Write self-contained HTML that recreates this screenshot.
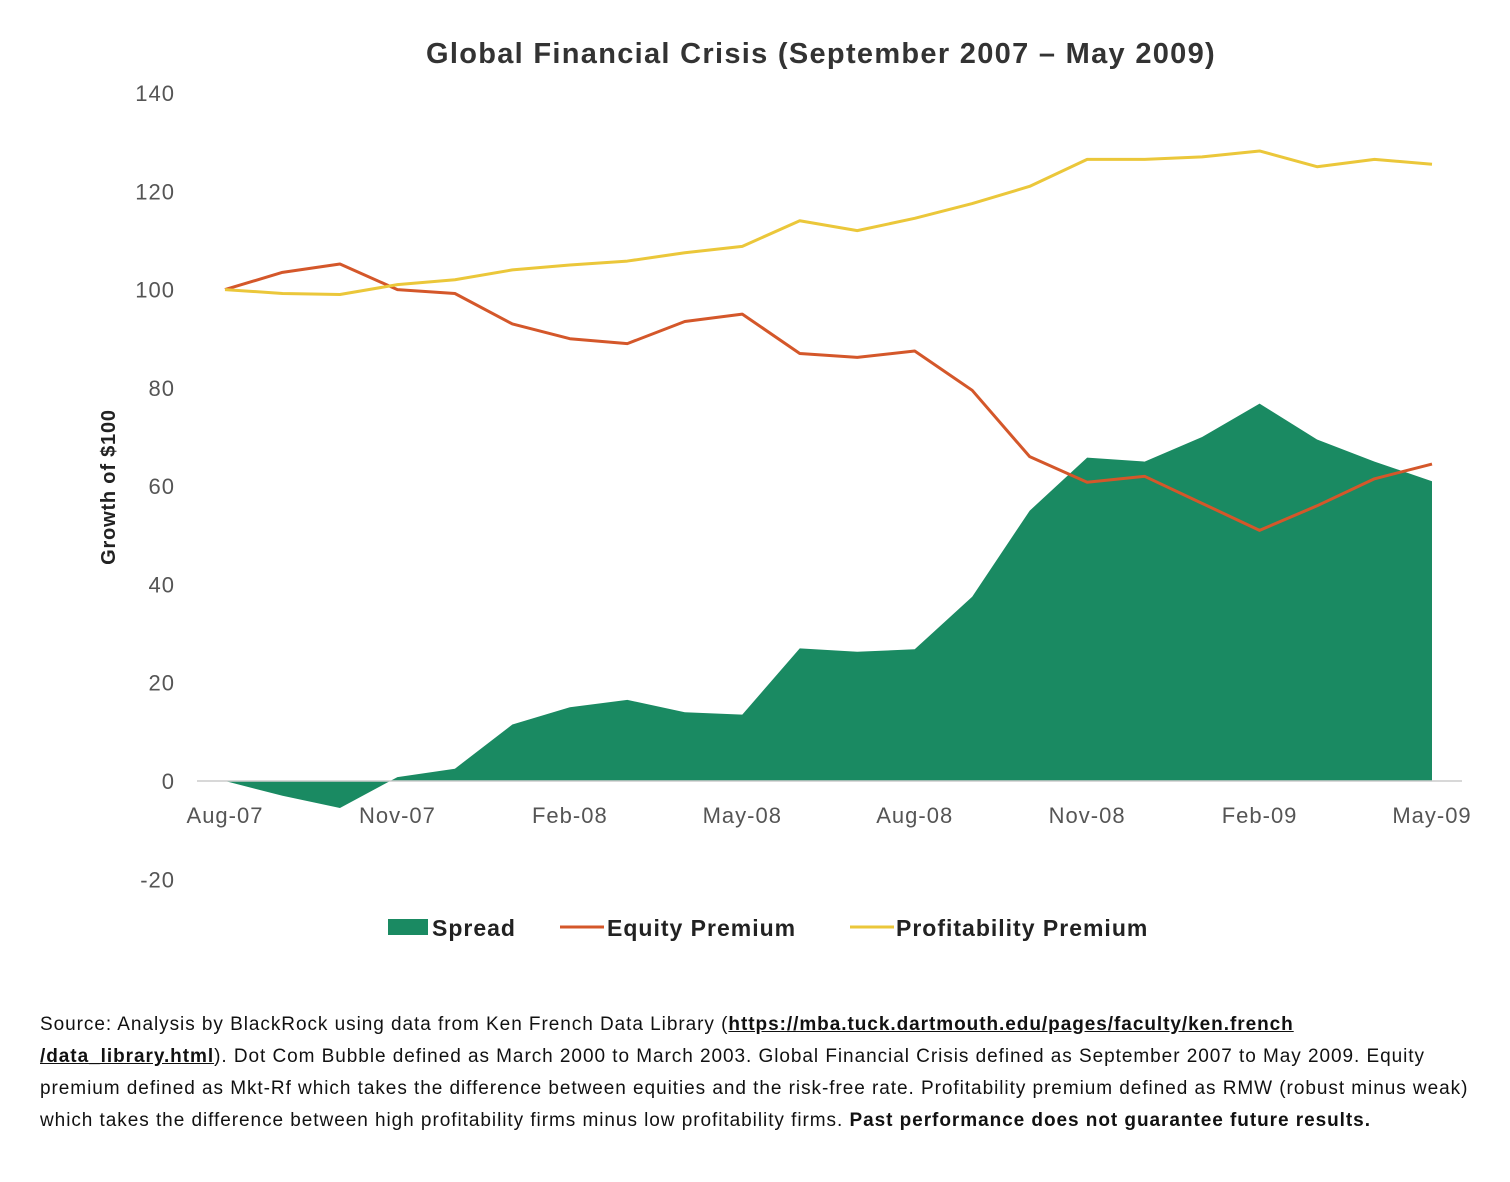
<!DOCTYPE html>
<html><head><meta charset="utf-8"><style>
body{margin:0;background:#fff;width:1510px;height:1182px;overflow:hidden;font-family:"Liberation Sans",sans-serif}
#foot{position:absolute;left:40px;top:1009px;width:1470px;font-size:19px;letter-spacing:0.95px;line-height:32px;color:#111;white-space:nowrap}
#foot a{color:#111;font-weight:bold;text-decoration:underline}
</style></head><body>
<svg id="chart" width="1510" height="990" style="position:absolute;left:0;top:0">
<text x="821" y="63" text-anchor="middle" font-size="29" font-weight="bold" fill="#333" letter-spacing="1.3">Global Financial Crisis (September 2007 – May 2009)</text>
<g id="yt"></g><g id="xt"></g><g id="marks"></g>
<text transform="translate(115,487) rotate(-90)" text-anchor="middle" font-size="20" font-weight="bold" fill="#222" letter-spacing="0.8">Growth of $100</text>
<g letter-spacing="1">
<rect x="388" y="919" width="40" height="16" fill="#1a8a62"/>
<text x="432" y="936" font-size="23" font-weight="bold" fill="#222">Spread</text>
<line x1="560" y1="927" x2="604" y2="927" stroke="#d4572a" stroke-width="3"/>
<text x="607" y="936" font-size="23" font-weight="bold" fill="#222">Equity Premium</text>
<line x1="850" y1="927" x2="894" y2="927" stroke="#ebc73a" stroke-width="3"/>
<text x="896" y="936" font-size="23" font-weight="bold" fill="#222">Profitability Premium</text>
</g>
</svg>
<div id="foot">Source: Analysis by BlackRock using data from Ken French Data Library (<a>https://mba.tuck.dartmouth.edu/pages/faculty/ken.french<br>/data_library.html</a>). Dot Com Bubble defined as March 2000 to March 2003. Global Financial Crisis defined as September 2007 to May 2009. Equity<br>premium defined as Mkt-Rf which takes the difference between equities and the risk-free rate. Profitability premium defined as RMW (robust minus weak)<br>which takes the difference between high profitability firms minus low profitability firms. <b>Past performance does not guarantee future results.</b></div>
<script>
const months=["Aug-07","Sep-07","Oct-07","Nov-07","Dec-07","Jan-08","Feb-08","Mar-08","Apr-08","May-08","Jun-08","Jul-08","Aug-08","Sep-08","Oct-08","Nov-08","Dec-08","Jan-09","Feb-09","Mar-09","Apr-09","May-09"];
const xLabels=["Aug-07","Nov-07","Feb-08","May-08","Aug-08","Nov-08","Feb-09","May-09"];
const yTicks=[-20,0,20,40,60,80,100,120,140];
const spread=[0,-3,-5.5,0.8,2.5,11.5,15,16.5,14,13.5,27,26.3,26.8,37.5,55,65.8,65,70,76.8,69.5,65,61];
const equity=[100,103.5,105.2,100,99.2,93,90,89,93.5,95,87,86.2,87.5,79.5,66,60.8,62,56.5,51,56,61.5,64.5];
const profit=[100,99.2,99,101,102,104,105,105.8,107.5,108.8,114,112,114.5,117.5,121,126.5,126.5,127,128.2,125,126.5,125.5];
const NS="http://www.w3.org/2000/svg";
const x=i=>225+i*(1432-225)/(months.length-1);
const y=v=>781-v*(781-93)/140;
function mk(t,a,p){const e=document.createElementNS(NS,t);for(const k in a)e.setAttribute(k,a[k]);p.appendChild(e);return e;}
const yt=document.getElementById('yt'),xt=document.getElementById('xt'),mg=document.getElementById('marks');
yTicks.forEach(v=>{const t=mk('text',{x:175,y:y(v)+8,'text-anchor':'end','font-size':22,fill:'#555','letter-spacing':1},yt);t.textContent=v;

});
xLabels.forEach(l=>{const i=months.indexOf(l);const t=mk('text',{x:x(i),y:823,'text-anchor':'middle','font-size':22,fill:'#555','letter-spacing':1},xt);t.textContent=l;

});
let d='M'+x(0)+','+y(0);spread.forEach((v,i)=>d+=' L'+x(i)+','+y(v));d+=' L'+x(spread.length-1)+','+y(0)+'Z';
const a=mk('path',{d:d,fill:'#1a8a62'},mg);


const ax=mk('line',{x1:197,y1:y(0),x2:1462,y2:y(0),stroke:'#ccc','stroke-width':1.5},mg);


function line(arr,c,n){const l=mk('polyline',{points:arr.map((v,i)=>x(i)+','+y(v)).join(' '),fill:'none',stroke:c,'stroke-width':3,'stroke-linejoin':'round'},mg);

}
line(equity,'#d4572a','equity-premium-line');
line(profit,'#ebc73a','profitability-premium-line');
</script>
</body></html>
